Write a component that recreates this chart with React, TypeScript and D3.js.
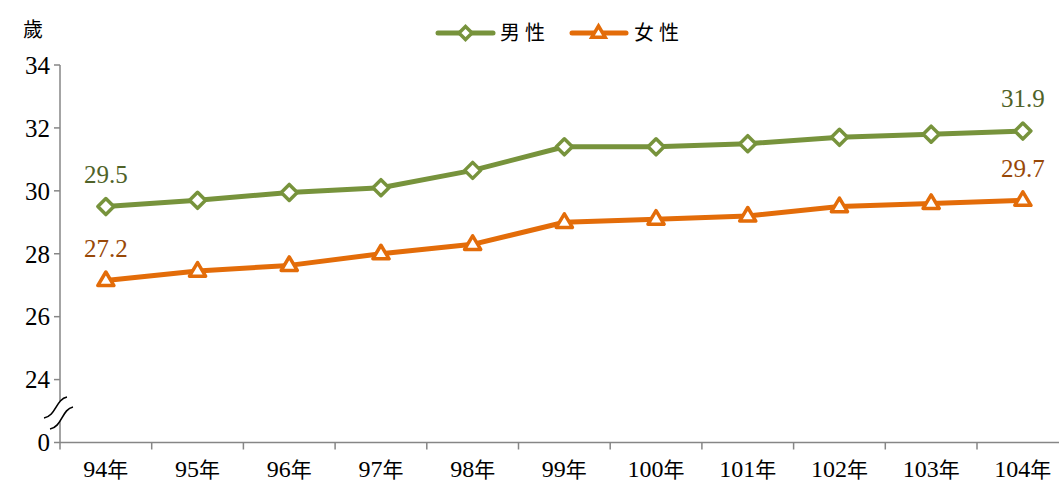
import React from "react";
import * as d3 from "d3";

const categories = ["94年", "95年", "96年", "97年", "98年", "99年", "100年", "101年", "102年", "103年", "104年"];
const maleValues = [29.5, 29.7, 29.95, 30.1, 30.65, 31.4, 31.4, 31.5, 31.7, 31.8, 31.9];
const femaleValues = [27.15, 27.45, 27.63, 28.0, 28.3, 29.0, 29.1, 29.2, 29.5, 29.6, 29.7];
const yTicks = [24, 26, 28, 30, 32, 34];
const seriesNames = ["男性", "女性"];
const maleLabels = [{ i: 0, text: "29.5" }, { i: 10, text: "31.9" }];
const femaleLabels = [{ i: 0, text: "27.2" }, { i: 10, text: "29.7" }];

const W = 1059;
const H = 486;
const GREEN = "#77933C";
const ORANGE = "#E36C09";
const GREEN_LABEL = "#4F6228";
const ORANGE_LABEL = "#984807";
const AXIS = "#868686";
const SERIF = "Liberation Serif";
const CJK = "Noto Sans CJK TC";

export default function App() {
  const x0 = 60;
  const step = 91.7;
  const x = d3
    .scaleBand<string>()
    .domain(categories)
    .range([x0, x0 + step * categories.length])
    .paddingInner(0)
    .paddingOuter(0);
  const y = d3.scaleLinear().domain([22, 34]).range([442.5, 65]);
  const cx = (c: string) => (x(c) as number) + x.bandwidth() / 2;

  const line = d3
    .line<number>()
    .x((_, i) => cx(categories[i]))
    .y((v) => y(v))
    .curve(d3.curveLinear);

  const diamond = (px: number, py: number, r: number) =>
    `M${px},${py - r}L${px + r},${py}L${px},${py + r}L${px - r},${py}Z`;
  const triangle = (px: number, py: number, r: number) =>
    `M${px},${py - r}L${px + r * 0.95},${py + r * 0.6}L${px - r * 0.95},${py + r * 0.6}Z`;

  const axisY0 = y(22);
  const breakY = 413;
  const serif = { fontFamily: SERIF };
  const cjk = { fontFamily: CJK };

  return (
    <svg
      width={W}
      height={H}
      style={{ position: "absolute", left: 0, top: 0, background: "#fff" }}
    >
      {/* y axis */}
      <line x1={x0} x2={x0} y1={y(34)} y2={axisY0} stroke={AXIS} strokeWidth={1.5} />
      {yTicks.map((t) => (
        <g key={t}>
          <line x1={x0 - 6} x2={x0} y1={y(t)} y2={y(t)} stroke={AXIS} strokeWidth={1.5} />
          <text x={x0 - 10} y={y(t)} dy="0.35em" textAnchor="end" style={serif} fontSize={25} fill="#000">
            {t}
          </text>
        </g>
      ))}
      <line x1={x0 - 6} x2={x0} y1={axisY0} y2={axisY0} stroke={AXIS} strokeWidth={1.5} />
      <text x={x0 - 10} y={axisY0} dy="0.35em" textAnchor="end" style={serif} fontSize={25}>
        0
      </text>
      <text x={33} y={37} textAnchor="middle" style={cjk} fontSize={20}>
        歲
      </text>

      {/* axis break */}
      <path
        d={`M44,${breakY + 5} C56,${breakY + 3} 56,${breakY - 14} 67,${breakY - 16} L73,${breakY - 6} C62,${breakY - 4} 62,${breakY + 14} 50,${breakY + 16} Z`}
        fill="#fff"
        stroke="none"
      />
      <path
        d={`M44,${breakY + 5} C56,${breakY + 3} 56,${breakY - 14} 67,${breakY - 16}`}
        fill="none"
        stroke="#000"
        strokeWidth={1.6}
      />
      <path
        d={`M50,${breakY + 16} C62,${breakY + 14} 62,${breakY - 4} 73,${breakY - 6}`}
        fill="none"
        stroke="#000"
        strokeWidth={1.6}
      />

      {/* x axis */}
      <line x1={x0} x2={W} y1={axisY0} y2={axisY0} stroke={AXIS} strokeWidth={1.5} />
      {categories.map((c) => (
        <g key={c}>
          <line x1={x(c) as number} x2={x(c) as number} y1={axisY0} y2={axisY0 + 7} stroke={AXIS} strokeWidth={1.5} />
          <text x={cx(c)} y={477} textAnchor="middle" style={serif} fontSize={24}>
            {c.replace("年", "")}
            <tspan style={cjk} fontSize={21}>年</tspan>
          </text>
        </g>
      ))}

      {/* series lines */}
      <path d={line(maleValues) || ""} fill="none" stroke={GREEN} strokeWidth={5} strokeLinejoin="round" />
      <path d={line(femaleValues) || ""} fill="none" stroke={ORANGE} strokeWidth={5} strokeLinejoin="round" />

      {maleValues.map((v, i) => (
        <path
          key={"m" + i}
          d={diamond(cx(categories[i]), y(v), 8)}
          fill="#fff"
          stroke={GREEN}
          strokeWidth={3.5}
          strokeLinejoin="round"
        />
      ))}
      {femaleValues.map((v, i) => (
        <path
          key={"f" + i}
          d={triangle(cx(categories[i]), y(v), 8.5)}
          fill="#fff"
          stroke={ORANGE}
          strokeWidth={3.5}
          strokeLinejoin="round"
        />
      ))}

      {/* data labels */}
      {maleLabels.map((l) => (
        <text
          key={"ml" + l.i}
          x={cx(categories[l.i])}
          y={y(maleValues[l.i]) - 24}
          textAnchor="middle"
          style={serif}
          fontSize={25}
          fill={GREEN_LABEL}
        >
          {l.text}
        </text>
      ))}
      {femaleLabels.map((l) => (
        <text
          key={"fl" + l.i}
          x={cx(categories[l.i])}
          y={y(femaleValues[l.i]) - 23}
          textAnchor="middle"
          style={serif}
          fontSize={25}
          fill={ORANGE_LABEL}
        >
          {l.text}
        </text>
      ))}

      {/* legend */}
      <g>
        <line x1={438} x2={493} y1={33} y2={33} stroke={GREEN} strokeWidth={5} strokeLinecap="round" />
        <path d={diamond(465.5, 33, 6.5)} fill="#fff" stroke={GREEN} strokeWidth={3.5} />
        <text x={500} y={40} style={cjk} fontSize={20} letterSpacing={5}>
          {seriesNames[0]}
        </text>
        <line x1={572} x2={626} y1={33} y2={33} stroke={ORANGE} strokeWidth={5} strokeLinecap="round" />
        <path d={triangle(598.5, 33, 7)} fill="#fff" stroke={ORANGE} strokeWidth={3.5} />
        <text x={634} y={40} style={cjk} fontSize={20} letterSpacing={5}>
          {seriesNames[1]}
        </text>
      </g>
    </svg>
  );
}
